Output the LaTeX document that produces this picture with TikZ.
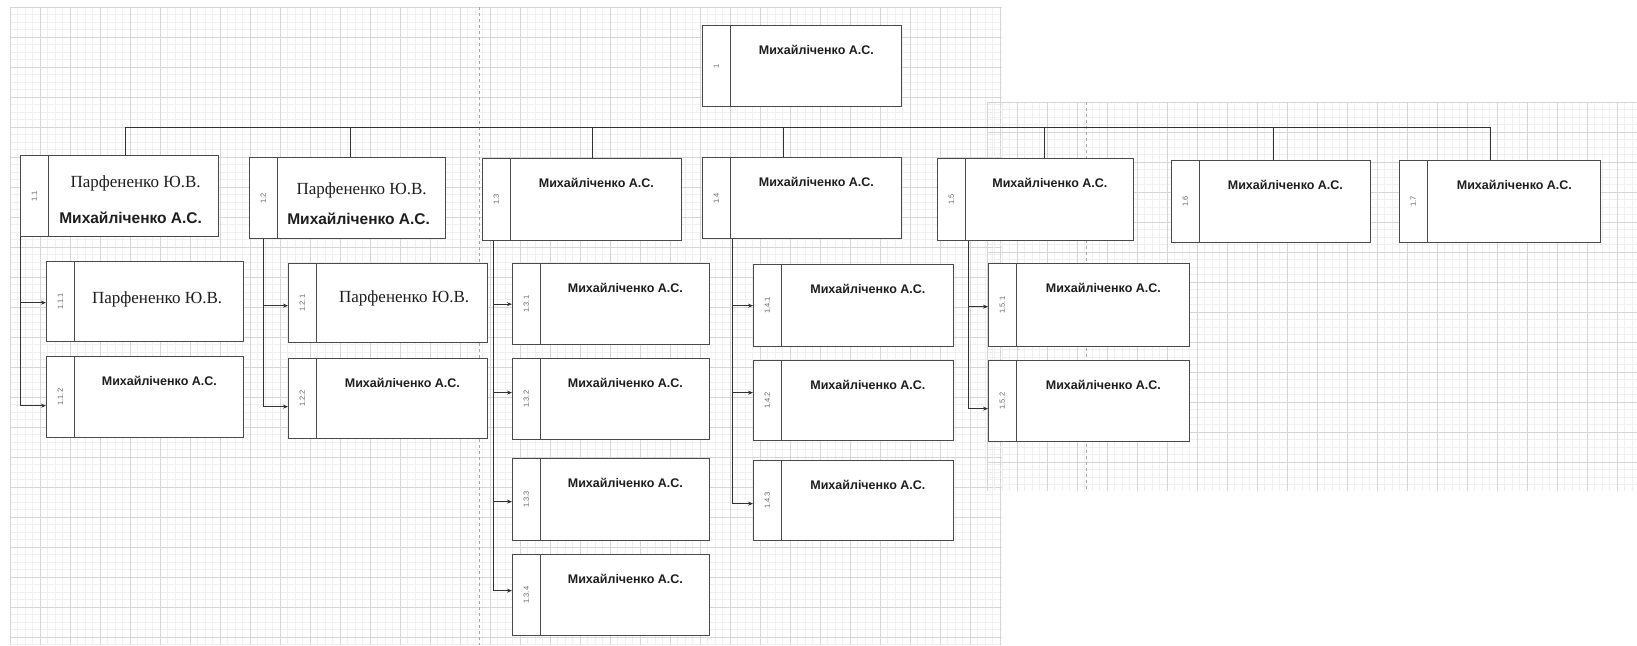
\documentclass[tikz,border=0pt]{standalone}
\usepackage{fontspec}
\setmainfont{Liberation Serif}
\newfontfamily\arialf{Liberation Sans}
\usetikzlibrary{arrows.meta}
\definecolor{boxline}{HTML}{4A4A4A}
\definecolor{connline}{HTML}{333333}
\definecolor{txt}{HTML}{1E1E1E}
\tikzset{
  wbsbox/.style={draw=boxline, line width=1.3pt, fill=white, inner sep=0pt, anchor=north west},
  sepline/.style={draw=boxline, line width=1.2pt},
  numlbl/.style={font=\arialf\fontsize{7.5}{8}\selectfont, text=black!60, rotate=90, inner sep=0pt},
  nametxt/.style={font=\arialf\bfseries\fontsize{12.5}{14}\selectfont, text=txt, inner sep=0pt},
  bignametxt/.style={font=\arialf\bfseries\fontsize{15.5}{17}\selectfont, text=txt, inner sep=0pt},
  serifname/.style={font=\fontsize{17}{19}\selectfont, text=txt, inner sep=0pt},
  conn/.style={draw=connline, line width=0.9pt},
  arr/.style={conn, -{Stealth[length=5pt,width=4pt]}},
  minorgrid/.style={draw=black!6, line width=0.5pt},
  majorgrid/.style={draw=black!16, line width=0.7pt},
  sheetdash/.style={draw=black!35, line width=1pt, dash pattern=on 3pt off 3pt},
}
% name, x, y, w, h, label
\newcommand\wbsnode[6]{%
  \node[wbsbox, minimum width=#4pt, minimum height=#5pt] (#1) at (#2,#3) {};
  \draw[sepline] ([xshift=28.5pt]#1.north west) -- ([xshift=28.5pt]#1.south west);
  \node[numlbl] (#1-n) at ([xshift=14.25pt]#1.west) {#6};
}
\newcommand\mtext[1]{\node[nametxt] (#1-t) at ([xshift=14.25pt,yshift=-25pt]#1.north) {Михайліченко А.С.};}
\begin{document}
\begin{tikzpicture}[x=1pt,y=-1pt]
\useasboundingbox (0,0) rectangle (1637,645);
\fill[white] (0,0) rectangle (1637,645);
% grid sheets
\foreach \x in {10,17.5,...,1002} {\draw[minorgrid] (\x,7) -- (\x,645);}
\foreach \y in {7,14.5,...,645} {\draw[minorgrid] (10,\y) -- (1002,\y);}
\foreach \x in {10,40,...,1002} {\draw[majorgrid] (\x,7) -- (\x,645);}
\foreach \y in {7,37,...,645} {\draw[majorgrid] (10,\y) -- (1002,\y);}
\foreach \x in {987,994.5,...,1637} {\draw[minorgrid] (\x,102) -- (\x,491);}
\foreach \y in {102,109.5,...,491} {\draw[minorgrid] (987,\y) -- (1637,\y);}
\foreach \x in {987,1017,...,1637} {\draw[majorgrid] (\x,102) -- (\x,491);}
\foreach \y in {102,132,...,491} {\draw[majorgrid] (987,\y) -- (1637,\y);}
\draw[sheetdash] (479,7) -- (479,645);
\draw[sheetdash] (1086,102) -- (1086,491);

% level 0
\wbsnode{n1}{702}{25}{199}{81}{1}
\mtext{n1}
% level 1
\wbsnode{p11}{20}{155}{198}{81}{1.1}
\wbsnode{p12}{249}{157}{196}{81}{1.2}
\wbsnode{p13}{482}{158}{199}{82}{1.3}
\wbsnode{p14}{702}{157}{199}{81}{1.4}
\wbsnode{p15}{937}{158}{196}{82}{1.5}
\wbsnode{p16}{1171}{160}{199}{82}{1.6}
\wbsnode{p17}{1399}{160}{201}{82}{1.7}
\node[serifname] (p11-t) at ([xshift=16pt,yshift=-28pt]p11.north) {Парфененко Ю.В.};
\node[bignametxt] (p11-u) at ([xshift=11pt,yshift=-63pt]p11.north) {Михайліченко А.С.};
\node[serifname] (p12-t) at ([xshift=14pt,yshift=-33pt]p12.north) {Парфененко Ю.В.};
\node[bignametxt] (p12-u) at ([xshift=11pt,yshift=-62pt]p12.north) {Михайліченко А.С.};
\mtext{p13}\mtext{p14}\mtext{p15}\mtext{p16}\mtext{p17}
% level 2
\wbsnode{c111}{46}{261}{197}{80}{1.1.1}
\wbsnode{c112}{46}{356}{197}{81}{1.1.2}
\wbsnode{c121}{288}{263}{199}{79}{1.2.1}
\wbsnode{c122}{288}{358}{199}{80}{1.2.2}
\wbsnode{c131}{512}{263}{197}{81}{1.3.1}
\wbsnode{c132}{512}{358}{197}{81}{1.3.2}
\wbsnode{c133}{512}{458}{197}{82}{1.3.3}
\wbsnode{c134}{512}{554}{197}{81}{1.3.4}
\wbsnode{c141}{753}{264}{200}{82}{1.4.1}
\wbsnode{c142}{753}{360}{200}{80}{1.4.2}
\wbsnode{c143}{753}{460}{200}{80}{1.4.3}
\wbsnode{c151}{988}{263}{201}{83}{1.5.1}
\wbsnode{c152}{988}{360}{201}{81}{1.5.2}
\node[serifname] (c111-t) at ([xshift=12pt,yshift=-38pt]c111.north) {Парфененко Ю.В.};
\node[serifname] (c121-t) at ([xshift=16pt,yshift=-35pt]c121.north) {Парфененко Ю.В.};
\mtext{c112}\mtext{c122}
\mtext{c131}\mtext{c132}\mtext{c133}\mtext{c134}
\mtext{c141}\mtext{c142}\mtext{c143}
\mtext{c151}\mtext{c152}

% bus
\coordinate (busL) at (125,127);
\coordinate (busR) at (1490,127);
\draw[conn] (busL) -- (busR);
\draw[conn] ([xshift=6pt]p11.north) -- ([xshift=6pt]p11.north |- busL);
\draw[conn] ([xshift=3pt]p12.north) -- ([xshift=3pt]p12.north |- busL);
\draw[conn] ([xshift=10.5pt]p13.north) -- ([xshift=10.5pt]p13.north |- busL);
\draw[conn] ([xshift=-18.5pt]p14.north) -- ([xshift=-18.5pt]p14.north |- busL);
\draw[conn] ([xshift=9pt]p15.north) -- ([xshift=9pt]p15.north |- busL);
\draw[conn] ([xshift=2.5pt]p16.north) -- ([xshift=2.5pt]p16.north |- busL);
\draw[conn] ([xshift=-9.5pt]p17.north) -- ([xshift=-9.5pt]p17.north |- busL);

% child connectors
\draw[arr] (p11.south west) |- ([yshift=-1pt]c111.west);
\draw[arr] (p11.south west) |- ([yshift=-8.5pt]c112.west);
\draw[arr] ([xshift=14pt]p12.south west) |- ([yshift=-2.5pt]c121.west);
\draw[arr] ([xshift=14pt]p12.south west) |- ([yshift=-8pt]c122.west);
\draw[arr] ([xshift=11pt]p13.south west) |- (c131.west);
\draw[arr] ([xshift=11pt]p13.south west) |- ([yshift=6.5pt]c132.west);
\draw[arr] ([xshift=11pt]p13.south west) |- ([yshift=-2pt]c133.west);
\draw[arr] ([xshift=11pt]p13.south west) |- ([yshift=4.5pt]c134.west);
\draw[arr] ([xshift=30pt]p14.south west) |- (c141.west);
\draw[arr] ([xshift=30pt]p14.south west) |- ([yshift=8pt]c142.west);
\draw[arr] ([xshift=30pt]p14.south west) |- ([yshift=-3pt]c143.west);
\draw[arr] ([xshift=31pt]p15.south west) |- ([yshift=-1.5pt]c151.west);
\draw[arr] ([xshift=31pt]p15.south west) |- ([yshift=-7.5pt]c152.west);
\end{tikzpicture}
\end{document}
